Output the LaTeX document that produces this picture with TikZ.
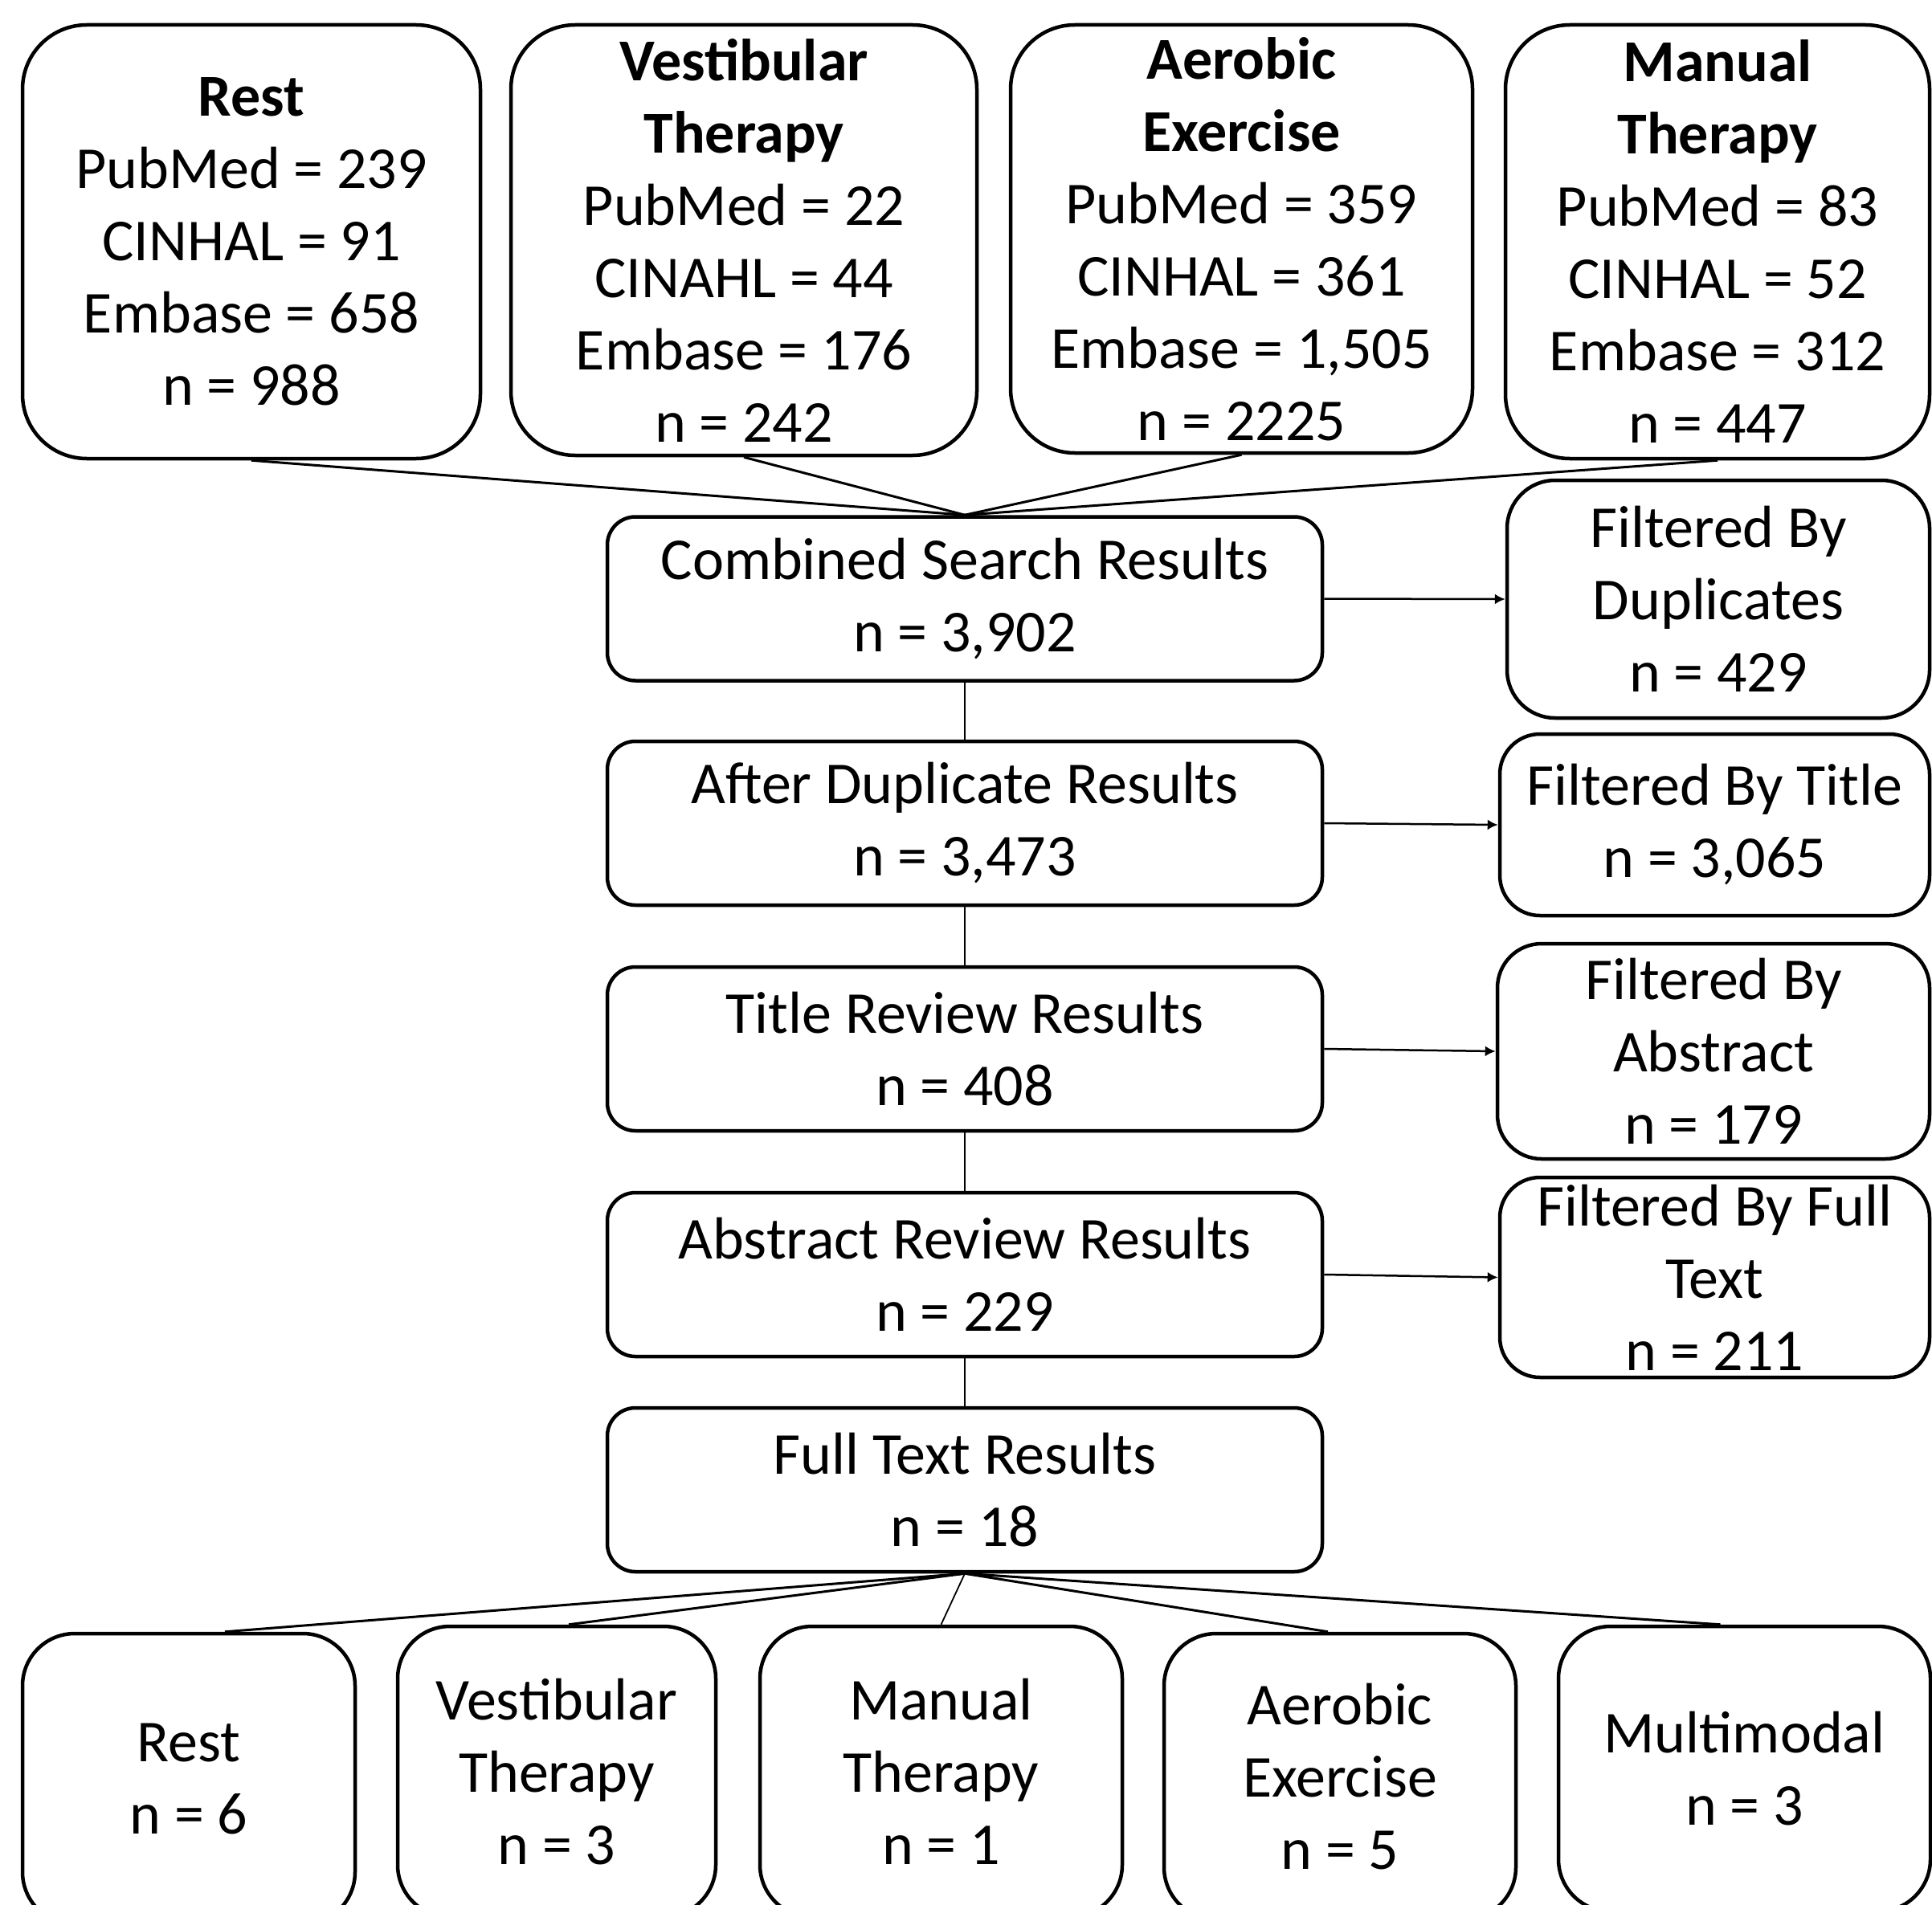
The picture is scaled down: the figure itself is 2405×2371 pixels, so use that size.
\documentclass[tikz,border=0pt]{standalone}
\usepackage{fontspec}
\setmainfont{Carlito}
\usetikzlibrary{arrows.meta,calc}
\begin{document}
\begin{tikzpicture}[x=1pt,y=-1pt,
  box/.style={draw=black, line width=4.5pt, fill=white, align=center, inner sep=0pt,
              font=\fontsize{74}{90}\selectfont},
  topbox/.style={box, rounded corners=80pt},
  midbox/.style={box, rounded corners=35pt, minimum width=890pt, minimum height=204pt},
  sidebox/.style={box, rounded corners=55pt},
  botbox/.style={box, rounded corners=65pt},
  conn/.style={draw=black, line width=3pt},
  thinconn/.style={draw=black, line width=1.8pt},
  arr/.style={draw=black, line width=2.5pt, -{Latex[length=13pt,width=13pt]}}
]
\useasboundingbox (0,0) rectangle (2405,2371);
\fill[white] (0,0) rectangle (2405,2371);
\clip (0,0) rectangle (2405,2371);

% top boxes
\node[topbox, minimum width=570pt, minimum height=540pt] (t1) at (313,301)
  {\textbf{Rest}\\PubMed = 239\\CINHAL = 91\\Embase = 658\\n = 988};
\node[topbox, minimum width=580pt, minimum height=536pt] (t2) at (926,299)
  {\textbf{Vestibular}\\\textbf{Therapy}\\PubMed = 22\\CINAHL = 44\\Embase = 176\\n = 242};
\node[topbox, minimum width=575pt, minimum height=533pt] (t3) at (1545.5,297.5)
  {\textbf{Aerobic}\\\textbf{Exercise}\\PubMed = 359\\CINHAL = 361\\Embase = 1,505\\n = 2225};
\node[topbox, minimum width=528pt, minimum height=540pt] (t4) at (2138,301)
  {\textbf{Manual}\\\textbf{Therapy}\\PubMed = 83\\CINHAL = 52\\Embase = 312\\n = 447};

% middle column
\node[midbox] (m1) at (1201,745.5) {Combined Search Results\\n = 3,902};
\node[midbox] (m2) at (1201,1025) {After Duplicate Results\\n = 3,473};
\node[midbox] (m3) at (1201,1306) {Title Review Results\\n = 408};
\node[midbox] (m4) at (1201,1587) {Abstract Review Results\\n = 229};
\node[midbox] (m5) at (1201,1855) {Full Text Results\\n = 18};

% right column
\node[sidebox, rounded corners=60pt, minimum width=526pt, minimum height=296pt] (r1) at (2139,746)
  {Filtered By\\Duplicates\\n = 429};
\node[sidebox, rounded corners=50pt, minimum width=535pt, minimum height=226pt] (r2) at (2134.5,1027)
  {Filtered By Title\\n = 3,065};
\node[sidebox, minimum width=538pt, minimum height=268pt] (r3) at (2133,1309)
  {Filtered By\\Abstract\\n = 179};
\node[sidebox, rounded corners=50pt, minimum width=535pt, minimum height=249pt] (r4) at (2134.5,1590.5)
  {Filtered By Full\\Text\\n = 211};

% bottom row
\node[botbox, minimum width=414pt, minimum height=362pt] (b1) at (235,2215) {Rest\\n = 6};
\node[botbox, minimum width=396pt, minimum height=362pt] (b2) at (693,2206) {Vestibular\\Therapy\\n = 3};
\node[botbox, minimum width=451pt, minimum height=362pt] (b3) at (1171.5,2206) {Manual\\Therapy\\n = 1};
\node[botbox, minimum width=438pt, minimum height=356pt] (b4) at (1668,2212) {Aerobic\\Exercise\\n = 5};
\node[botbox, minimum width=463pt, minimum height=355pt] (b5) at (2171.5,2202.5) {Multimodal\\n = 3};

% connectors top
\draw[conn] (t1.south) -- (m1.north);
\draw[conn] (t2.south) -- (m1.north);
\draw[conn] (t3.south) -- (m1.north);
\draw[conn] (t4.south) -- (m1.north);

% vertical chain
\draw[thinconn] (m1.south) -- (m2.north);
\draw[thinconn] (m2.south) -- (m3.north);
\draw[thinconn] (m3.south) -- (m4.north);
\draw[thinconn] (m4.south) -- (m5.north);

% arrows to exclusions
\draw[arr] (m1.east) -- (r1.west);
\draw[arr] (m2.east) -- (r2.west);
\draw[arr] (m3.east) -- (r3.west);
\draw[arr] (m4.east) -- (r4.west);

% bottom connectors
\draw[conn] (m5.south) -- ([xshift=45pt]b1.north);
\draw[conn] (m5.south) -- ([xshift=15pt]b2.north);
\draw[thinconn] (m5.south) -- (b3.north);
\draw[conn] (m5.south) -- ([xshift=-15pt]b4.north);
\draw[conn] (m5.south) -- ([xshift=-30pt]b5.north);
\end{tikzpicture}
\end{document}
